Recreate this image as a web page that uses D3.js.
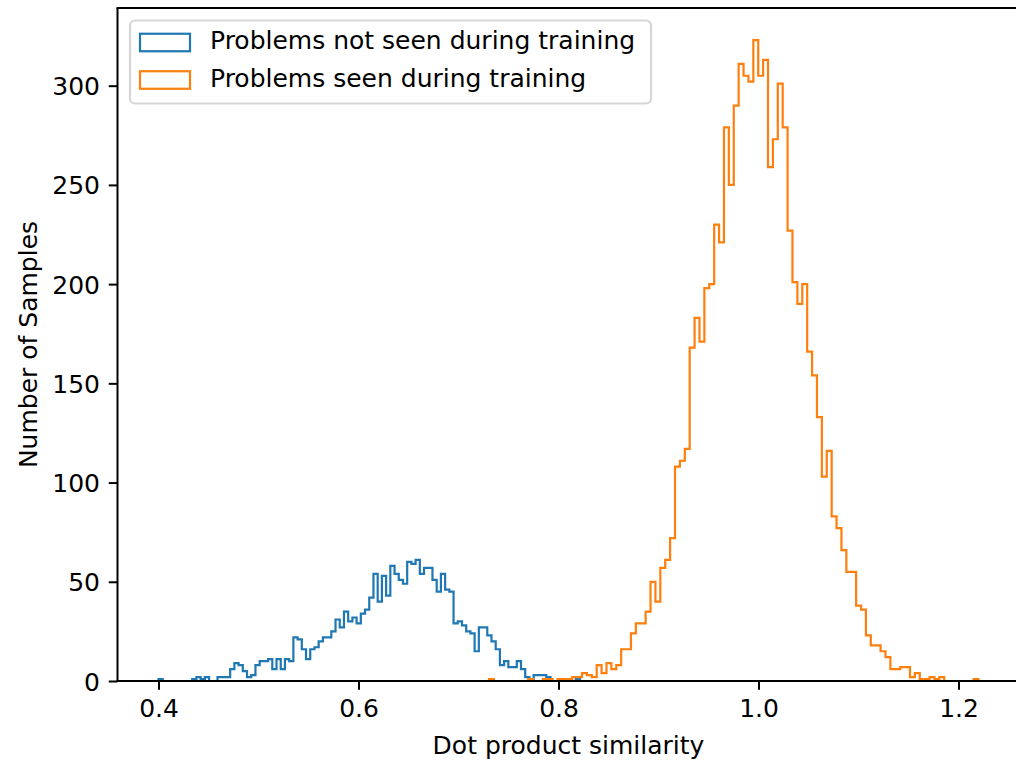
<!DOCTYPE html>
<html><head><meta charset="utf-8">
<script src="https://cdn.jsdelivr.net/npm/d3@7"></script>
<style>html,body{margin:0;padding:0;background:#fff;} svg{display:block;}</style>
</head><body>
<svg id="chart" width="1016" height="764"></svg>
<script>
// ---- data ----
const seriesNames = ["Problems not seen during training", "Problems seen during training"];
const seriesColors = ["#1f77b4", "#ff7f0e"];
const blueRange = [0.4, 0.8215];
const blueCounts = [1,0,0,0,0,0,0,0,1,2, 1,2,0,0,2,2,2,6,9,8, 5,2,3,8,10,10,11,6,11,6,
  11,10,22,21,16,11,16,17,20,22, 22,25,31,27,35,30,32,29,34,36, 42,54,40,53,43,58,54,51,49,60,
  59,61,54,57,57,51,45,54,46,45, 29,30,28,25,24,15,27,27,23,20, 16,8,10,7,7,10,6,2,1,3,
  3,3,2,0,0,0,0,0,0,1];
const orangeRange = [0.7305, 1.22];
const orangeCounts = [1,0,0,0,0,0,0,0,1,0, 0,1,1,0,1,1,1,2,2,4, 3,2,8,4,9,6,8,16,16,24,
  29,29,35,50,40,57,61,72,108,111, 117,168,183,171,198,200,230,221,279,250, 290,311,305,302,323,305,313,259,273,301,
  279,227,201,190,200,166,154,133,103,116, 83,77,66,55,55,38,36,23,18,18, 15,12,6,6,7,7,2,4,1,1,
  2,1,2,0,0,0,0,0,0,1];
const xTicks = [0.4, 0.6, 0.8, 1.0, 1.2];
const yTicks = [0, 50, 100, 150, 200, 250, 300];
const xLabel = "Dot product similarity";
const yLabel = "Number of Samples";

// ---- layout ----
const L = 117.5, T = 8, B = 681;
const dataMin = blueRange[0], dataMax = orangeRange[1];
const m = 0.05 * (dataMax - dataMin);
const xDom = [dataMin - m, dataMax + m];
const pxPerUnit = 1000;
const R = L + (xDom[1] - xDom[0]) * pxPerUnit;
const yMax = d3.max(orangeCounts.concat(blueCounts)) * 1.05;

const x = d3.scaleLinear().domain(xDom).range([L, R]);
const y = d3.scaleLinear().domain([0, yMax]).range([B, T]);

const svg = d3.select("#chart");
const font = "'DejaVu Sans', sans-serif";
const fs = 25;

function stepPoints(range, counts) {
  const n = counts.length;
  const edges = d3.range(n + 1).map(i => range[0] + i * (range[1] - range[0]) / n);
  const pts = [[edges[0], 0]];
  counts.forEach((c, i) => { pts.push([edges[i], c]); pts.push([edges[i + 1], c]); });
  pts.push([edges[n], 0]);
  return pts;
}
const line = d3.line().x(d => x(d[0])).y(d => y(d[1]));

[[blueRange, blueCounts], [orangeRange, orangeCounts]].forEach((s, k) => {
  svg.append("path").attr("d", line(stepPoints(s[0], s[1])))
    .attr("fill", "none").attr("stroke", seriesColors[k]).attr("stroke-width", 2.2)
    .attr("stroke-linejoin", "miter");
});

// axes
const xAxis = d3.axisBottom(x).tickValues(xTicks).tickFormat(d3.format(".1f")).tickSizeOuter(0).tickSize(8.75).tickPadding(8.75);
const gx = svg.append("g").attr("transform", `translate(0,${B})`).call(xAxis);
gx.select(".domain").remove();
gx.selectAll("line").attr("stroke", "#000").attr("stroke-width", 2);
gx.selectAll("text").attr("font-family", font).attr("font-size", fs).attr("fill", "#000").attr("dy", "0.72em");

const yAxis = d3.axisLeft(y).tickValues(yTicks).tickFormat(d3.format("d")).tickSizeOuter(0).tickSize(8.75).tickPadding(8.75);
const gy = svg.append("g").attr("transform", `translate(${L},0)`).call(yAxis);
gy.select(".domain").remove();
gy.selectAll("line").attr("stroke", "#000").attr("stroke-width", 2);
gy.selectAll("text").attr("font-family", font).attr("font-size", fs).attr("fill", "#000").attr("dy", "0.36em");

// spines
const sp = svg.append("g").attr("stroke", "#000").attr("stroke-width", 2).attr("fill", "none");
sp.append("line").attr("x1", L).attr("x2", L).attr("y1", T).attr("y2", B);
sp.append("line").attr("x1", L - 1).attr("x2", R).attr("y1", B).attr("y2", B);
sp.append("line").attr("x1", L - 1).attr("x2", R).attr("y1", T).attr("y2", T);
sp.append("line").attr("x1", R).attr("x2", R).attr("y1", T).attr("y2", B);

// labels
svg.append("text").attr("x", (L + R) / 2 > 0 ? x((xDom[0] + xDom[1]) / 2) : 0).attr("y", 754)
  .attr("text-anchor", "middle").attr("font-family", font).attr("font-size", fs).attr("fill", "#000").text(xLabel);
svg.append("text").attr("transform", `translate(36.5,${(T + B) / 2}) rotate(-90)`)
  .attr("text-anchor", "middle").attr("font-family", font).attr("font-size", fs).attr("fill", "#000").text(yLabel);

// legend
const lg = svg.append("g");
const lgX = L + 12.5, lgY = T + 12.5;
const rows = [42.5, 80];
const textW = 431;
lg.append("rect").attr("x", lgX).attr("y", lgY).attr("width", 10 + 50 + 20 + textW + 10).attr("height", 83)
  .attr("rx", 5).attr("ry", 5).attr("fill", "#fff").attr("fill-opacity", 0.8)
  .attr("stroke", "#cccccc").attr("stroke-opacity", 0.8).attr("stroke-width", 2.2);
seriesNames.forEach((name, k) => {
  lg.append("rect").attr("x", lgX + 10).attr("y", rows[k] - 8.75).attr("width", 50).attr("height", 17.5)
    .attr("fill", "none").attr("stroke", seriesColors[k]).attr("stroke-width", 2.2);
  lg.append("text").attr("x", lgX + 80).attr("y", rows[k] + 6.5).attr("font-family", font)
    .attr("font-size", fs).attr("fill", "#000").text(name);
});
</script>
</body></html>
